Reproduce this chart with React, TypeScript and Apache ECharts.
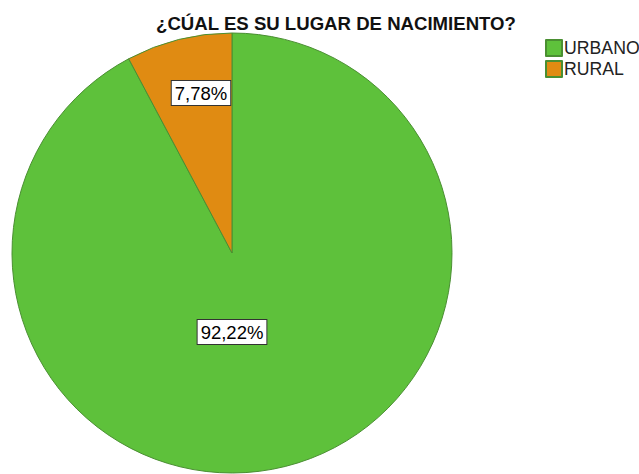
import React, { useEffect, useRef } from "react";
import * as echarts from "echarts";

const title = "¿CÚAL ES SU LUGAR DE NACIMIENTO?";
const categories = ["URBANO", "RURAL"];
const values = [92.22, 7.78];
const labels = ["92,22%", "7,78%"];
const colors = ["#5ec13b", "#e08b12"];

const FONT = "'Liberation Sans', Arial, sans-serif";
const CX = 232;
const CY = 253;
// label offsets relative to pie center
const labelOffsets = [
  [0, 79],
  [-31, -160],
];

export default function App() {
  const ref = useRef<HTMLDivElement>(null);
  useEffect(() => {
    if (!ref.current) return;
    const chart = echarts.init(ref.current, undefined, { renderer: "svg" });
    chart.setOption({
      animation: false,
      backgroundColor: "#ffffff",
      title: {
        text: title,
        left: 331,
        textAlign: "center",
        top: 9,
        textStyle: { fontFamily: FONT, fontSize: 18.6, fontWeight: "bold", color: "#111" },
      },
      legend: {
        orient: "vertical",
        left: 540,
        top: 34,
        itemWidth: 16,
        itemHeight: 16,
        itemGap: 3,
        icon: "rect",
        data: categories,
        textStyle: { fontFamily: FONT, fontSize: 17.7, color: "#222", padding: [0, 0, 0, -3] },
      },
      series: [
        {
          type: "pie",
          center: [CX, CY],
          radius: 220,
          startAngle: 90,
          clockwise: true,
          itemStyle: { borderColor: "#4a8f32", borderWidth: 1 },
          emphasis: { disabled: true },
          labelLine: { show: false },
          label: {
            show: true,
            position: "inside",
            formatter: (p: any) => labels[p.dataIndex],
            fontFamily: FONT,
            fontSize: 18.5,
            color: "#000",
            backgroundColor: "#ffffff",
            borderColor: "#333",
            borderWidth: 1,
            padding: [3, 3, 2, 3],
          },
          labelLayout: (p: any) => ({
            x: CX + labelOffsets[p.dataIndex][0],
            y: CY + labelOffsets[p.dataIndex][1],
          }),
          data: categories.map((c, i) => ({
            name: c,
            value: values[i],
            itemStyle: { color: colors[i] },
          })),
        },
      ],
    });
    return () => chart.dispose();
  }, []);
  return (
    <div
      ref={ref}
      style={{ position: "absolute", left: 0, top: 0, width: 639, height: 474 }}
    />
  );
}
